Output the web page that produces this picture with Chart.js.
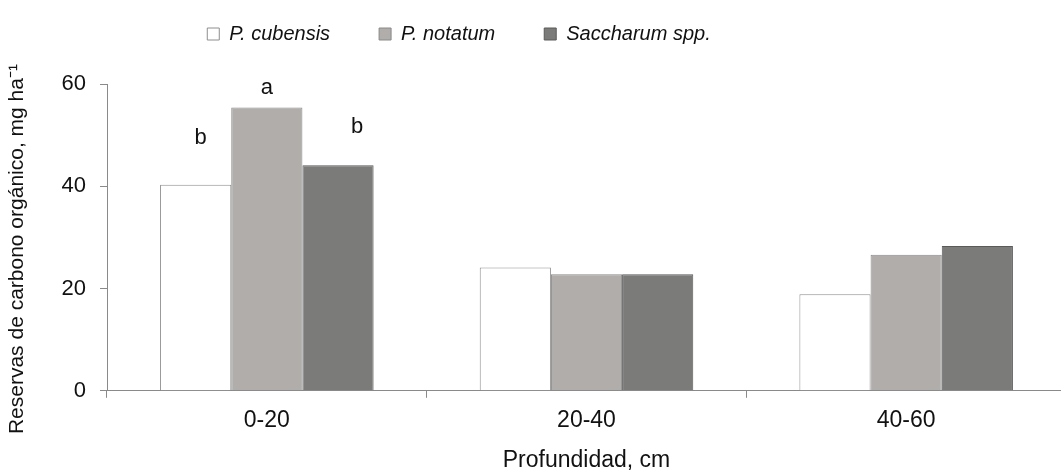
<!DOCTYPE html>
<html>
<head>
<meta charset="utf-8">
<script src="https://cdn.jsdelivr.net/npm/chart.js@4/dist/chart.umd.min.js"></script>
<style>
  html, body { margin: 0; padding: 0; background: #fff; overflow: hidden; }
  #wrap { width: 1066px; height: 474px; }
</style>
</head>
<body>
<div id="wrap"><canvas id="carbonChart"></canvas></div>
<script>
const depths = ["0-20", "20-40", "40-60"];
const cubensis = [40.3, 24.1, 18.9];
const notatum = [55.4, 22.8, 26.6];
const saccharum = [44.1, 22.8, 28.3];
const yTicks = [0, 20, 40, 60];
// significance letters, first depth only
const letters = ["b", "a", "b"];

const FONT = "'Liberation Sans', Arial, sans-serif";
const AXIS = "#8a8a8a";

// letters over the 0-20 bars (pixel nudges copied from the figure)
const letterNudge = [[5, 47], [0, 20], [19, 38]];
const letterPlugin = {
  id: "letters",
  afterDatasetsDraw(chart) {
    const ctx = chart.ctx;
    ctx.save();
    ctx.font = "22px " + FONT;
    ctx.fillStyle = "#111";
    ctx.textAlign = "center";
    ctx.textBaseline = "middle";
    letters.forEach((l, i) => {
      const bar = chart.getDatasetMeta(i).data[0];
      ctx.fillText(l, bar.x + letterNudge[i][0], bar.y - letterNudge[i][1]);
    });
    ctx.restore();
  },
};

// room between legend and plot, and legend sits left of centre like the figure
const legendTweak = {
  id: "legendTweak",
  beforeLayout(chart) {
    const lg = chart.legend;
    if (lg && !lg._gap) {
      const fit = lg.fit.bind(lg);
      lg.fit = function () {
        fit();
        this.height += 30;
      };
      lg._gap = true;
    }
  },
  afterLayout(chart) {
    const lg = chart.legend;
    if (lg) {
      lg.left -= 74;
      lg.right -= 74;
    }
  },
};

const ctx = document.getElementById("carbonChart").getContext("2d");

new Chart(ctx, {
  type: "bar",
  data: {
    labels: depths,
    datasets: [
      {
        label: "P. cubensis",
        data: cubensis,
        backgroundColor: "#ffffff",
        borderColor: "#8e8e8e",
        borderWidth: 1,
      },
      {
        label: "P. notatum",
        data: notatum,
        backgroundColor: "#b0adab",
        borderColor: "#8a8a8a",
        borderWidth: 1,
      },
      {
        label: "Saccharum spp.",
        data: saccharum,
        backgroundColor: "#7b7b79",
        borderColor: "#5a5a5a",
        borderWidth: 1,
      },
    ],
  },
  options: {
    responsive: true,
    maintainAspectRatio: false,
    animation: false,
    categoryPercentage: 0.668,
    barPercentage: 1,
    layout: { padding: { top: -25, left: 0, right: 0, bottom: 0 } },
    plugins: {
      tooltip: { enabled: false },
      legend: {
        position: "top",
        labels: {
          boxWidth: 12,
          boxHeight: 12,
          padding: 49,
          color: "#111",
          font: { family: FONT, size: 20, style: "italic" },
        },
      },
    },
    scales: {
      x: {
        grid: {
          drawOnChartArea: false,
          tickLength: 7,
          color: AXIS,
        },
        border: { color: AXIS },
        ticks: {
          color: "#111",
          padding: 9,
          font: { family: FONT, size: 23 },
        },
        title: {
          display: true,
          text: "Profundidad, cm",
          color: "#111",
          padding: { top: 3, bottom: 0 },
          font: { family: FONT, size: 23 },
        },
      },
      y: {
        min: 0,
        max: 60,
        afterBuildTicks(scale) {
          scale.ticks = yTicks.map((v) => ({ value: v }));
        },
        afterFit(scale) {
          scale.width = 107;
        },
        grid: {
          drawOnChartArea: false,
          tickLength: 7,
          color: AXIS,
        },
        border: { color: AXIS },
        ticks: {
          color: "#111",
          padding: 14,
          font: { family: FONT, size: 22 },
        },
        title: {
          display: true,
          text: "Reservas de carbono orgánico, mg ha⁻¹    ",
          color: "#111",
          padding: { top: 5, bottom: 0 },
          font: { family: FONT, size: 21 },
        },
      },
    },
  },
  plugins: [letterPlugin, legendTweak],
});
</script>
</body>
</html>
